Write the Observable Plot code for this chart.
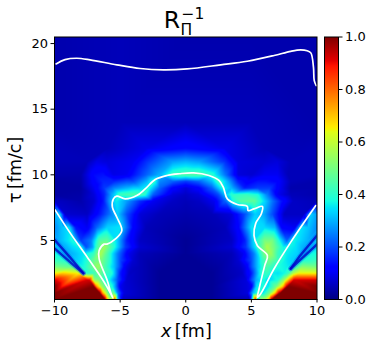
<!DOCTYPE html>
<html><head><meta charset="utf-8">
<script src="https://cdn.jsdelivr.net/npm/d3@7"></script>
<script src="https://cdn.jsdelivr.net/npm/@observablehq/plot@0.6"></script>
<style>
html,body{margin:0;padding:0;background:#fff}
#wrap{position:relative;width:374px;height:350px;overflow:hidden;font-family:"DejaVu Sans",sans-serif;color:#000}
#wrap svg{position:absolute;left:0;top:0;background:transparent;font-family:"DejaVu Sans",sans-serif}
.t{position:absolute;white-space:nowrap;line-height:1}
</style></head><body><div id="wrap"></div>
<script>
const tauRows=[0.5,1,1.5,2,2.5,3,3.5,4,4.5,5,6,7,8,8.5,9,9.5,10,11,12,14,20.5];
const xRows=[
[-10,-6.15,-6,-5.85,-5.7,-5.4,-5.2,-4.8,-2,2,4.85,5.05,5.3,5.5,5.8,6.1,6.35,6.55,10],
[-10,-6.55,-6.35,-6.1,-5.8,-5.5,-5.2,-4.7,-2,2,4.7,5.1,5.5,5.9,6.4,6.8,7.1,7.2,10],
[-10,-7,-6.8,-6.4,-6,-5.6,-5,-2,2,5,5.4,5.9,6.3,6.9,7.4,7.7,7.8,10],
[-10,-7.5,-7.3,-7,-6.6,-6.2,-5.8,-5.2,-4.5,-2,2,4.6,5.3,5.9,6.3,7,7.5,8,8.25,10],
[-10,-8.2,-7.95,-7.5,-7,-6.6,-6.2,-5.6,-5,-4.3,-2,2,4.3,5,5.7,6.2,6.6,7,7.5,7.8,8.2,8.6,10],
[-10,-8.8,-8.42,-7.85,-7.3,-6.7,-6.2,-5.4,-4.6,-3.5,0,3.5,4.6,5.4,6.1,6.5,7.1,7.7,8.15,8.5,10],
[-10,-9.35,-8.98,-8.25,-7.6,-7,-6.4,-5.8,-5,-4,0,4,5,5.8,6.4,7,7.6,8.1,8.69,9.05,10],
[-10,-9.55,-8.7,-7.7,-7,-6.5,-6,-5.2,-4.4,-3.5,0,3.5,4.4,5.2,6,6.5,7,7.7,8.5,9.24,9.6,10],
[-10,-9.15,-8,-7.6,-7.1,-6.8,-6.2,-5.4,-4.6,-3.5,0,3.5,4.6,5.4,6.2,6.8,7.4,7.8,8.9,10],
[-10,-9.65,-8.6,-8,-7.2,-6.6,-6,-5.3,-4.5,-3.5,0,3.5,4.5,5.2,6,6.6,7.1,7.7,8.2,9.3,10],
[-10,-9.4,-8.9,-8.4,-7.5,-6.8,-6,-5,-4,-3,0,3,4,5,6,6.8,7.3,8.3,8.8,9.3,10],
[-10,-9.6,-9.2,-7.5,-6.5,-5.7,-5.2,-4.5,-3.5,-2,0,2,3.5,4.5,5.3,5.9,6.6,7.5,9,9.5,10],
[-10,-8,-7,-6.3,-5.8,-5.3,-4.5,-3.5,-2.5,-1,0,1,2.2,3,3.6,4.2,5.2,6,6.6,7.3,8.2,10],
[-10,-7,-6.2,-5.6,-5,-4,-3.2,-2.5,-1,0,1,2.5,3,3.5,4.5,5.5,6.2,7,8,10],
[-10,-8,-7,-6.2,-5.5,-4.5,-3.5,-2.8,-2,-1,0,1,2,2.8,3.5,4.5,5.5,6.4,7.2,8,10],
[-10,-7,-6.3,-5.5,-4,-3,-2.4,-1,0,1,2.5,3.2,4,5.5,6,7,8,10],
[-10,-8,-7,-6.3,-5.5,-4.5,-3,-2,-1,0,1,2,3,4,5,6,7,7.8,10],
[-10,-7.5,-6.8,-6,-4,-3,-1,0,1,3,4,6,7,8,10],
[-10,-6,-3,0,3,6,10],
[-10,-5,0,5,10],
[-10,-5,0,5,10]];
const vRows=[
[1,1,.75,.6,.55,.85,.3,.06,.02,.02,.05,.3,.9,.3,.55,.6,.75,1,1],
[1,1,.75,.6,.4,.5,.25,.08,.02,.02,.08,.3,.4,.35,.5,.7,.95,1,1],
[1,1,.75,.55,.42,.38,.1,.02,.02,.1,.35,.38,.35,.5,.7,.95,1,1],
[.92,.92,.9,.55,.5,.4,.36,.2,.07,.02,.02,.08,.28,.38,.33,.38,.55,.8,.92,.92],
[.65,.65,.5,.4,.42,.5,.42,.38,.15,.06,.02,.02,.06,.15,.38,.42,.36,.35,.37,.42,.58,.65,.65],
[.5,.47,.42,.37,.45,.55,.45,.3,.1,.05,.02,.05,.1,.3,.45,.42,.38,.36,.36,.44,.5],
[.42,.4,.36,.33,.38,.48,.5,.4,.2,.07,.02,.07,.2,.4,.5,.42,.36,.33,.35,.39,.42],
[.38,.35,.3,.36,.42,.57,.45,.25,.1,.05,.02,.05,.1,.25,.5,.55,.42,.36,.33,.34,.37,.38],
[.34,.3,.37,.2,.28,.42,.55,.38,.18,.07,.02,.07,.18,.38,.57,.48,.37,.37,.3,.34],
[.3,.3,.38,.18,.25,.45,.47,.35,.15,.06,.02,.06,.15,.35,.5,.5,.38,.22,.37,.3,.33],
[.26,.32,.35,.14,.1,.22,.33,.35,.12,.05,.03,.05,.12,.35,.34,.3,.12,.1,.35,.32,.26],
[.3,.33,.07,.06,.15,.25,.33,.2,.08,.05,.04,.05,.08,.2,.33,.3,.2,.06,.06,.33,.28],
[.06,.04,.07,.14,.28,.36,.28,.17,.1,.06,.05,.06,.1,.22,.38,.45,.47,.34,.24,.14,.06,.05],
[.03,.08,.16,.3,.42,.45,.42,.22,.08,.06,.08,.2,.32,.4,.42,.38,.25,.1,.05,.04],
[.03,.03,.1,.18,.25,.3,.33,.38,.22,.12,.08,.12,.22,.38,.3,.15,.18,.18,.1,.04,.04],
[.03,.12,.16,.16,.2,.3,.4,.22,.18,.22,.42,.3,.15,.14,.14,.12,.05,.04],
[.04,.04,.13,.14,.09,.1,.22,.3,.42,.45,.45,.4,.24,.08,.07,.1,.1,.05,.05],
[.05,.05,.09,.08,.1,.17,.28,.3,.28,.17,.08,.07,.08,.05,.05],
[.05,.05,.09,.13,.09,.05,.05],
[.04,.05,.05,.05,.04],
[.04,.05,.04,.04,.04]];
const stripeX=[[-10,-8.7,-7.8],[-10,-8.85,-7.8],[8,8.7,10],[8,8.64,10]];
const stripeT=[[4.4,3.25,2.5],[5.05,3.75,2.5],[2.85,3.5,4.7],[2.85,3.75,5.38]];
const curveTopX=[-9.88,-9.2,-8.3,-7.29,-5.25,-3.47,-1.7,0.11,2.66,4.69,6.73,8,8.76,9.25,9.53,9.73,9.79,9.94];
const curveTopT=[18.45,18.78,18.88,18.76,18.38,18.1,18,18.07,18.38,18.65,19.09,19.41,19.52,19.45,19.29,18.2,17.18,16.8];
const curveMainX=[-9.96,-8.76,-7.5,-6.22,-5.71,-5.55,-5.7,-6,-6.6,-6.6,-6.22,-6,-5.38,-4.87,-5.25,-5.59,-5.51,-5.25,-4.62,-3.73,-3.09,-2.33,-1.43,-0.5,0.6,1.77,2.53,2.86,3.17,3.93,4.69,4.75,5.2,5.84,5.76,5.33,5.2,5.46,6.22,6.02,5.59,5.46,5.71,6.73,8,9.91];
const curveMainT=[7.33,5.5,3.72,1.83,.94,.62,1,2,3.6,4.23,4.72,4.72,5.1,5.75,6.77,7.53,8.17,8.37,8.17,8.42,8.93,9.64,9.95,10.08,10.15,9.95,9.57,9.06,8.17,7.74,7.6,7.28,7.4,7.59,7.03,6.3,5.38,4.6,3.85,3.1,1.32,.67,.94,2.84,4.87,7.66];
const xTicks=[-10,-5,0,5,10], tauTicks=[5,10,15,20], barTicks=[0,.2,.4,.6,.8,1];
const jetDomain=[0,.11,.125,.34,.35,.375,.64,.65,.66,.89,.91,1];
const jetRange=["#00007f","#0000ff","#0000ff","#00dbff","#00e5f7","#16ffe1","#e1ff16","#f7f400","#ffea00","#ff1300","#e30000","#7f0000"];
const color={type:"linear",domain:jetDomain,range:jetRange,interpolate:"rgb",clamp:true};
const field=[];
tauRows.forEach((t,i)=>xRows[i].forEach((x,j)=>field.push({x,t,v:vRows[i][j]})));
const zipLine=(xs,ts)=>xs.map((x,i)=>({x,t:ts[i]}));
const stripeMarks=stripeX.flatMap((xs,i)=>[
  Plot.line(zipLine(xs,stripeT[i]),{x:"x",y:"t",stroke:"#0020f0",strokeWidth:5,strokeOpacity:.25,clip:"frame"}),
  Plot.line(zipLine(xs,stripeT[i]),{x:"x",y:"t",stroke:"#0000c8",strokeWidth:2.4,strokeOpacity:.8,clip:"frame"})
]);
const wrap=document.getElementById("wrap");
const chart=Plot.plot({
 width:374,height:350,marginLeft:54,marginRight:57.5,marginTop:36.5,marginBottom:51,
 style:{fontSize:"13px",fontFamily:"DejaVu Sans",color:"#000",background:"transparent"},
 x:{domain:[-10,10],ticks:xTicks,label:null,tickFormat:d=>String(d).replace("-","−"),tickSize:3.5,tickPadding:3},
 y:{domain:[.5,20.5],ticks:tauTicks,label:null,tickSize:3.5,tickPadding:3},
 color,
 marks:[
  Plot.raster(field,{x:"x",y:"t",fill:"v",interpolate:"barycentric",pixelSize:1}),
  ...stripeMarks,
  Plot.line(zipLine(curveTopX,curveTopT),{x:"x",y:"t",stroke:"#fff",strokeWidth:1.7,curve:"catmull-rom"}),
  Plot.line(zipLine(curveMainX,curveMainT),{x:"x",y:"t",stroke:"#fff",strokeWidth:1.7,curve:"catmull-rom"}),
  Plot.frame({stroke:"#000",strokeWidth:1,strokeOpacity:1})
 ]});
wrap.appendChild(chart);
const bar=Plot.plot({
 width:374,height:350,marginLeft:324,marginRight:36,marginTop:36.5,marginBottom:51,
 style:{fontSize:"13px",fontFamily:"DejaVu Sans",color:"#000",background:"transparent"},
 x:{domain:[0,1],axis:null},
 y:{domain:[0,1],ticks:barTicks,axis:"right",label:null,tickFormat:".1f",tickSize:3.5,tickPadding:3},
 color,
 marks:[
  Plot.raster({fill:(x,y)=>y,x1:0,x2:1,y1:0,y2:1,pixelSize:1}),
  Plot.frame({stroke:"#000",strokeWidth:1,strokeOpacity:1})
 ]});
wrap.appendChild(bar);
function addText(html,left,top,size,extra){const d=document.createElement("div");d.className="t";d.innerHTML=html;d.style.left=left+"px";d.style.top=top+"px";d.style.fontSize=size+"px";d.style.height=(size*.9)+"px";if(extra)d.style.cssText+=extra;wrap.appendChild(d);}
addText("R",163.7,8.7,23.5);
addText("−1",181.4,6.5,15.5);
addText("Π",180.5,23.2,15.5);
addText("<i>x</i>\u2009[fm]",161,323,17.5);
addText("τ\u2009[fm/c]",-35,162,17.5,"transform:rotate(-90deg);width:100px;text-align:center;");
</script></body></html>
